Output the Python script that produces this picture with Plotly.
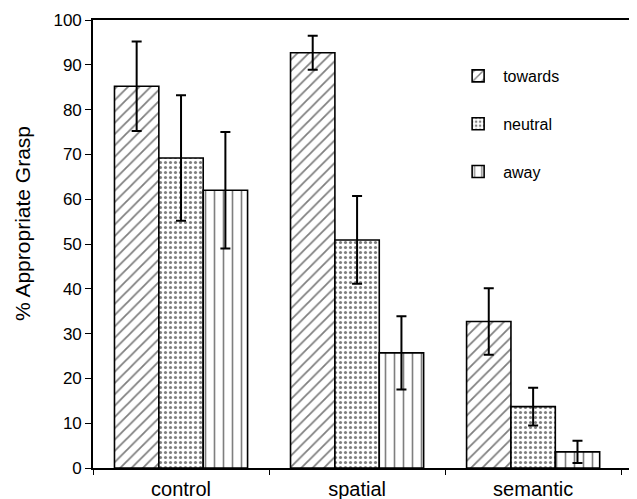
import plotly.graph_objects as go

categories = ["control", "spatial", "semantic"]
series_names = ["towards", "neutral", "away"]
towards = [85.2, 92.7, 32.7]
towards_err = [10.0, 3.8, 7.4]
neutral = [69.2, 50.9, 13.7]
neutral_err = [14.0, 9.8, 4.2]
away = [62.0, 25.7, 3.6]
away_err = [13.0, 8.2, 2.5]
y_ticks = [0, 10, 20, 30, 40, 50, 60, 70, 80, 90, 100]
y_title = "% Appropriate Grasp"

values = [towards, neutral, away]
errors = [towards_err, neutral_err, away_err]
shapes = ["/", ".", "|"]
sizes = [8, 5, 9]
solid = [0.22, 0.3, 0.18]

fig = go.Figure()
for name, vals, errs, shp, sz, so in zip(series_names, values, errors, shapes, sizes, solid):
    fig.add_trace(go.Bar(
        x=categories, y=vals, name=name, legendgroup=name,
        marker=dict(color="white", line=dict(color="black", width=1.6),
                    pattern=dict(shape=shp, fgcolor="black", bgcolor="white",
                                 size=sz, solidity=so)),
        error_y=dict(type="data", array=errs, visible=True, color="black",
                     thickness=2, width=5),
    ))

fig.add_annotation(text=y_title, xref="paper", yref="paper", x=-0.1287, y=0.547,
                   xanchor="center", yanchor="middle", textangle=-90, showarrow=False,
                   font=dict(size=21))

fig.update_layout(
    width=629, height=491,
    margin=dict(l=85, r=0, t=12, b=31),
    paper_bgcolor="white", plot_bgcolor="white",
    font=dict(family="Arial, Liberation Sans, sans-serif", color="black", size=17),
    barmode="group", bargap=0.244, bargroupgap=0,
    showlegend=True,
    legend=dict(x=0.662, y=0.913, xanchor="left", yanchor="top",
                bgcolor="rgba(0,0,0,0)", tracegroupgap=24, itemwidth=40,
                font=dict(size=16)),
    xaxis=dict(range=[-0.5, 2.59], showline=True, linecolor="black", linewidth=1.6,
               mirror=True, ticks="outside", ticklen=5, tickcolor="black",
               tickson="boundaries", showgrid=False, tickfont=dict(size=20),
               ticklabelstandoff=2),
    yaxis=dict(range=[0, 100], tickvals=y_ticks, showline=True, linecolor="black",
               linewidth=1.6, ticks="outside", ticklen=6, tickcolor="black",
               showgrid=False, zeroline=False, tickfont=dict(size=17)),
)

fig.write_html("out.html")
